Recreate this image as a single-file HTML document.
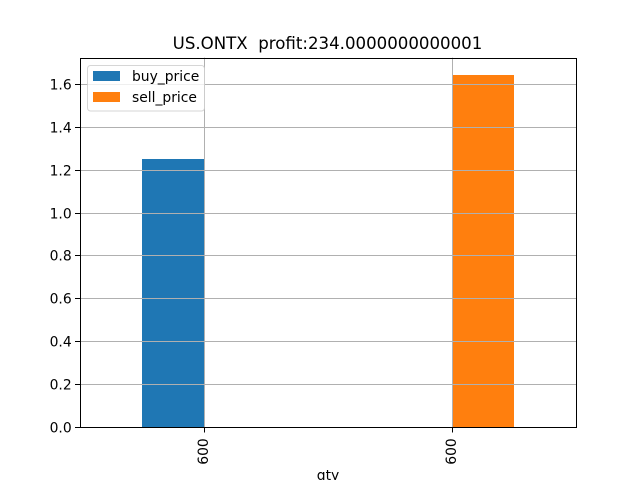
<!DOCTYPE html>
<html>
<head>
<meta charset="utf-8">
<style>
html,body{margin:0;padding:0;background:#fff;width:640px;height:480px;overflow:hidden}
svg{display:block}
text{font-family:"DejaVu Sans","Liberation Sans",sans-serif;fill:#000}
</style>
</head>
<body>
<svg id="chart" xmlns="http://www.w3.org/2000/svg" width="640" height="480" viewBox="0 0 640 480"></svg>
<script>
const categories = ["600", "600"];
const buyPrice = [1.25, 0];
const sellPrice = [0, 1.64];
const yTicks = [0.0, 0.2, 0.4, 0.6, 0.8, 1.0, 1.2, 1.4, 1.6];
const seriesNames = ["buy_price", "sell_price"];
const chartTitle = "US.ONTX  profit:234.0000000000001";
const xTitle = "qty";

const NS = "http://www.w3.org/2000/svg";
const svg = document.getElementById("chart");
const L = 80, R = 576, T = 57.6, B = 427.2;
const barWidth = 0.25;
const colors = ["#1f77b4", "#ff7f0e"];
const yMax = Math.max(...buyPrice, ...sellPrice) * 1.05;
const xScale = v => L + (v + 0.5) / categories.length * (R - L);
const yScale = v => B - (v / yMax) * (B - T);
const snap = v => Math.floor(v + 0.5) + 0.5;

function mk(tag, attrs, parent) {
  const el = document.createElementNS(NS, tag);
  for (const k in attrs) el.setAttribute(k, attrs[k]);
  (parent || svg).appendChild(el);
  return el;
}

// Bars
[buyPrice, sellPrice].forEach((series, s) => {
  series.forEach((v, i) => {
    if (v === 0) return;
    const x0 = Math.round(xScale(i + (s === 0 ? -barWidth : 0)));
    const x1 = Math.round(xScale(i + (s === 0 ? 0 : barWidth)));
    const top = Math.round(yScale(v));
    const bar = mk("rect", {x: x0, y: top, width: x1 - x0, height: Math.round(B) - top, fill: colors[s]});
    
    
  });
});

// Horizontal grid and y ticks
yTicks.forEach(t => {
  const y = snap(yScale(t));
  const g = mk("line", {x1: L, x2: R, y1: y, y2: y, stroke: "#b0b0b0", "stroke-width": 1});
  
  
  const tick = mk("line", {x1: L - 5, x2: L, y1: y, y2: y, stroke: "#000", "stroke-width": 1});
  
  
  const lab = mk("text", {x: L - 8.3, y: y + 5, "text-anchor": "end", "font-size": 13.89});
  lab.textContent = t.toFixed(1);
  
  
});

// Vertical grid and x ticks
categories.forEach((c, i) => {
  const x = snap(xScale(i));
  const g = mk("line", {x1: x, x2: x, y1: T, y2: B, stroke: "#b0b0b0", "stroke-width": 1});
  
  
  const tick = mk("line", {x1: x, x2: x, y1: 427, y2: 432.5, stroke: "#000", "stroke-width": 1});
  
  
  const lab = mk("text", {x: 0, y: 0, "text-anchor": "middle", "font-size": 13.89,
    transform: "translate(" + (x + 3.7) + "," + 451.5 + ") rotate(-90)"});
  lab.textContent = c;
  
  
});

// Axes frame
const frame = mk("rect", {x: 80.5, y: 58.5, width: 496, height: 369, fill: "none", stroke: "#000", "stroke-width": 1});



// Title and axis label
const title = mk("text", {x: (L + R) / 2 - 0.5, y: 49, "text-anchor": "middle", "font-size": 16.62});
title.style.whiteSpace = "pre";
title.textContent = chartTitle;



const xt = mk("text", {x: (L + R) / 2, y: 480, "text-anchor": "middle", "font-size": 13.89});
xt.textContent = xTitle;



// Legend
const lg = mk("g", {});


const box = mk("rect", {x: 87.5, y: 65.5, width: 117, height: 45.5, rx: 3, ry: 3, fill: "#fff", "fill-opacity": 0.8, stroke: "#ccc", "stroke-opacity": 0.8, "stroke-width": 1}, lg);


seriesNames.forEach((n, i) => {
  const y = 71 + i * 21;
  const sw = mk("rect", {x: 93, y: y, width: 27, height: 10, fill: colors[i]}, lg);
  
  
  const tx = mk("text", {x: 132, y: y + 10, "font-size": 13.89}, lg);
  tx.textContent = n;
  
  
});
</script>
</body>
</html>
